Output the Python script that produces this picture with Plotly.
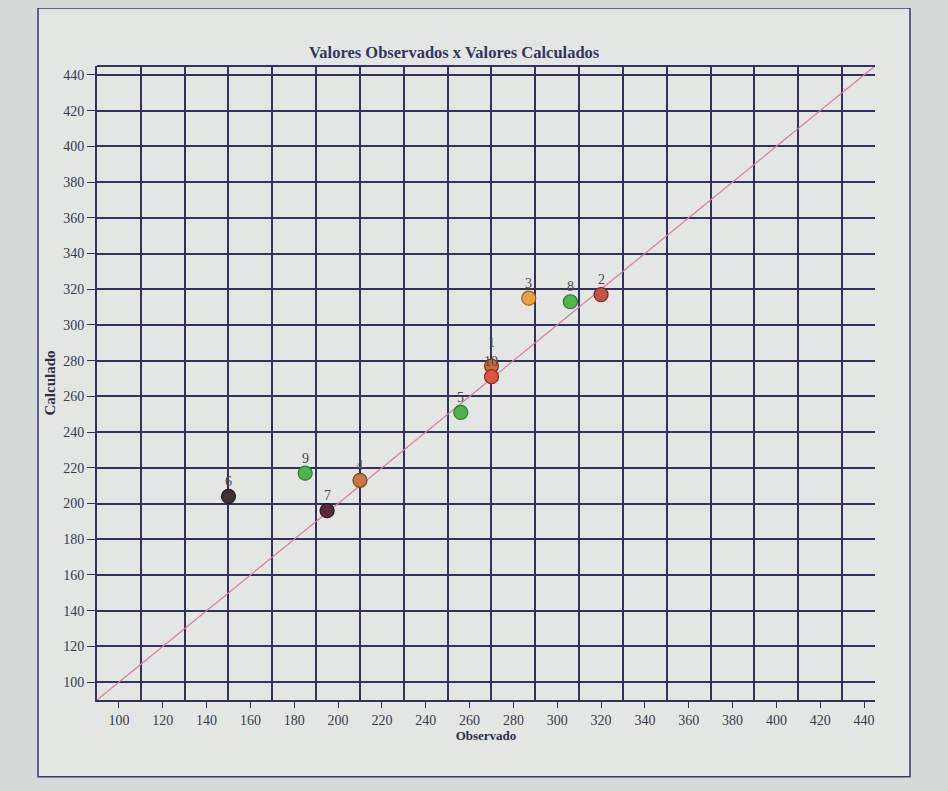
import plotly.graph_objects as go

# ---- data ----
pontos = ["1", "2", "3", "4", "5", "6", "7", "8", "9", "10"]
observado = [270, 320, 287, 210, 256, 150, 195, 306, 185, 270]
calculado = [277, 317, 315, 213, 251, 204, 196, 313, 217, 271]
cores = ["#c96a3c", "#c4523c", "#e8a23e", "#c8783c", "#52b04e",
         "#3d3236", "#5a2a3a", "#4cb84c", "#4cb84c", "#e0553f"]
bordas = ["#7a3a20", "#7a2a20", "#9a6420", "#7a4420", "#2e7a2e",
          "#1e1a1c", "#301820", "#2e7a2e", "#2e7a2e", "#8a2a20"]
# vertical offset (px) of each point's label above its marker
desloc = [24, 15, 15, 15, 15, 15, 15, 15, 15, 15]

x_ticks = list(range(100, 441, 20))
y_ticks = list(range(100, 441, 20))
eixo = [90, 445]

serif = "Liberation Serif, Times New Roman, serif"
grid_col = "#33335a"
fundo = "#d6dad8"

fig = go.Figure()

# y = x reference line spanning the axis range
fig.add_trace(go.Scatter(
    x=eixo, y=eixo, mode="lines",
    line=dict(color="#d27f9a", width=1.2),
    hoverinfo="skip", showlegend=False))

fig.add_trace(go.Scatter(
    x=observado, y=calculado, mode="markers",
    marker=dict(size=14, color=cores, line=dict(color=bordas, width=1.2)),
    showlegend=False))

anots = [dict(x=xv, y=yv, text=t, showarrow=False, yshift=d,
              font=dict(family=serif, size=14, color="#4a4a52"))
         for xv, yv, t, d in zip(observado, calculado, pontos, desloc)]

fig.update_layout(
    width=940, height=783,
    margin=dict(l=89, r=73, t=58, b=91),
    paper_bgcolor=fundo,
    plot_bgcolor="#e4e7e4",
    title=dict(text="<b>Valores Observados x Valores Calculados</b>",
               xref="paper", x=0.459, xanchor="center",
               y=0.944, yanchor="middle",
               font=dict(family=serif, size=16.5, color="#35355a")),
    annotations=anots,
    shapes=[
        # page frame
        dict(type="rect", xref="paper", yref="paper",
             x0=-0.0758, x1=1.045, y0=-0.121, y1=1.0915,
             line=dict(color="#3a3a66", width=1.5),
             fillcolor="#e3e6e3", layer="below"),
        # top border of the plot
        dict(type="line", xref="paper", yref="paper",
             x0=0, x1=1, y0=1, y1=1,
             line=dict(color=grid_col, width=1.8)),
    ],
)

fig.update_xaxes(
    range=eixo, tickvals=x_ticks, ticks="outside", ticklen=6,
    tickcolor=grid_col, showgrid=False, zeroline=False,
    showline=True, linecolor=grid_col, linewidth=1.8,
    tickfont=dict(family=serif, size=14, color="#3a3a4a"),
    minor=dict(tick0=110, dtick=20, showgrid=True,
               gridcolor=grid_col, gridwidth=1.6, ticks=""),
    title=dict(text="<b>Observado</b>", standoff=4,
               font=dict(family=serif, size=13, color="#2e2e48")))

fig.update_yaxes(
    range=eixo, tickvals=y_ticks, ticks="outside", ticklen=8,
    tickcolor=grid_col, showgrid=True, gridcolor=grid_col, gridwidth=1.6,
    zeroline=False, showline=True, linecolor=grid_col, linewidth=1.8,
    tickfont=dict(family=serif, size=14, color="#3a3a4a"),
    title=dict(text="<b>Calculado</b>", standoff=4,
               font=dict(family=serif, size=15, color="#2e2e48")))

fig.write_html("out.html",
               post_script="document.body.style.background='%s';" % fundo)
